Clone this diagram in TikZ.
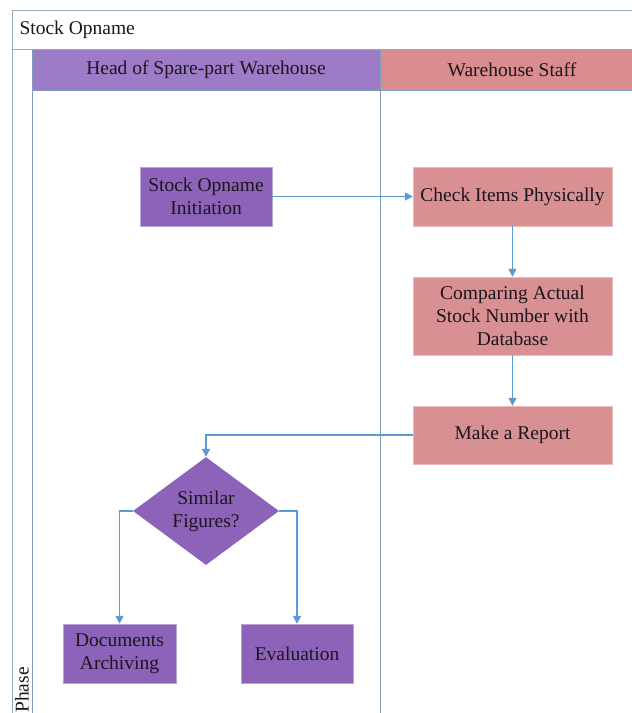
\documentclass[tikz,border=0pt]{standalone}
\usepackage{fontspec}
\setmainfont{Liberation Serif}
\newfontfamily\lanefont{Liberation Serif}
\usetikzlibrary{shapes.geometric, arrows.meta}
\definecolor{LaneLine}{RGB}{128, 156, 190}
\definecolor{FrameLine}{RGB}{150, 170, 192}
\definecolor{HeadPurple}{RGB}{156, 124, 198}
\definecolor{BoxPurple}{RGB}{141, 99, 186}
\definecolor{HeadRed}{RGB}{218, 141, 142}
\definecolor{BoxRed}{RGB}{217, 144, 146}
\definecolor{FlowBlue}{RGB}{91, 155, 213}
\definecolor{InkDark}{RGB}{28, 22, 30}
\tikzset{
  lanetext/.style={font=\lanefont\fontsize{19.5}{23}\selectfont, text=InkDark},
  purplebox/.style={lanetext, rectangle, fill=BoxPurple, draw=HeadPurple!70!white, align=center, inner sep=0pt},
  redbox/.style={lanetext, rectangle, fill=BoxRed, draw=HeadRed!60!white, align=center, inner sep=0pt, minimum width=199pt},
  decision/.style={lanetext, diamond, fill=BoxPurple, align=center, inner sep=0pt, minimum width=146pt, minimum height=104pt},
  flow/.style={draw=FlowBlue, line width=1.6pt, -{Triangle[width=8pt,length=8pt]}}
}
\begin{document}
\begin{tikzpicture}[x=1pt, y=-1pt]
  \useasboundingbox (0,0) rectangle (632,713);
  \def\laneL{32} \def\laneM{380} \def\headT{49} \def\headB{90}
  \begin{scope}
    \clip (0,0) rectangle (632,713);
    \fill[HeadPurple] (\laneL,\headT) rectangle (\laneM,\headB);
    \fill[HeadRed] (\laneM,\headT) rectangle (640,\headB);
    \draw[FrameLine, line width=1pt] (640,10) -- (12,10) -- (12,720);
    \draw[FrameLine, line width=1pt] (12,\headT) -- (640,\headT);
    \draw[LaneLine, line width=1pt] (\laneL,\headB) -- (640,\headB);
    \draw[LaneLine, line width=1pt] (\laneL,\headT) -- (\laneL,720);
    \draw[LaneLine, line width=1pt] (\laneM,\headT) -- (\laneM,720);
  \end{scope}
  \node[lanetext, anchor=west] (title) at (16,29.5) {Stock Opname};
  \node[lanetext] (headlane) at (206,69.5) {Head of Spare-part Warehouse};
  \node[lanetext] (stafflane) at (512,69.5) {Warehouse Staff};
  \node[lanetext, rotate=90] (phase) at (22,690) {Phase};

  \node[purplebox, minimum width=132pt, minimum height=59pt] (init) at (206,196.5) {Stock Opname\\Initiation};
  \node[redbox, minimum height=59pt] (check) at (512.5,196.5) {Check Items Physically};
  \node[redbox, minimum height=78pt] (compare) at (512.5,316) {Comparing Actual\\Stock Number with\\Database};
  \node[redbox, minimum height=58pt] (report) at (512.5,435) {Make a Report};
  \node[decision] (similar) at (206,511) {Similar\\Figures?};
  \node[purplebox, minimum width=113pt, minimum height=59pt] (archive) at (119.5,653.5) {Documents\\Archiving};
  \node[purplebox, minimum width=112pt, minimum height=59pt] (eval) at (297,653.5) {Evaluation};

  \draw[flow] (init) -- (check);
  \draw[flow] (check) -- (compare);
  \draw[flow] (compare) -- (report);
  \draw[flow] (report.west) -| (similar.north);
  \draw[flow] (similar.west) -| (archive.north);
  \draw[flow] (similar.east) -| (eval.north);
\end{tikzpicture}
\end{document}
